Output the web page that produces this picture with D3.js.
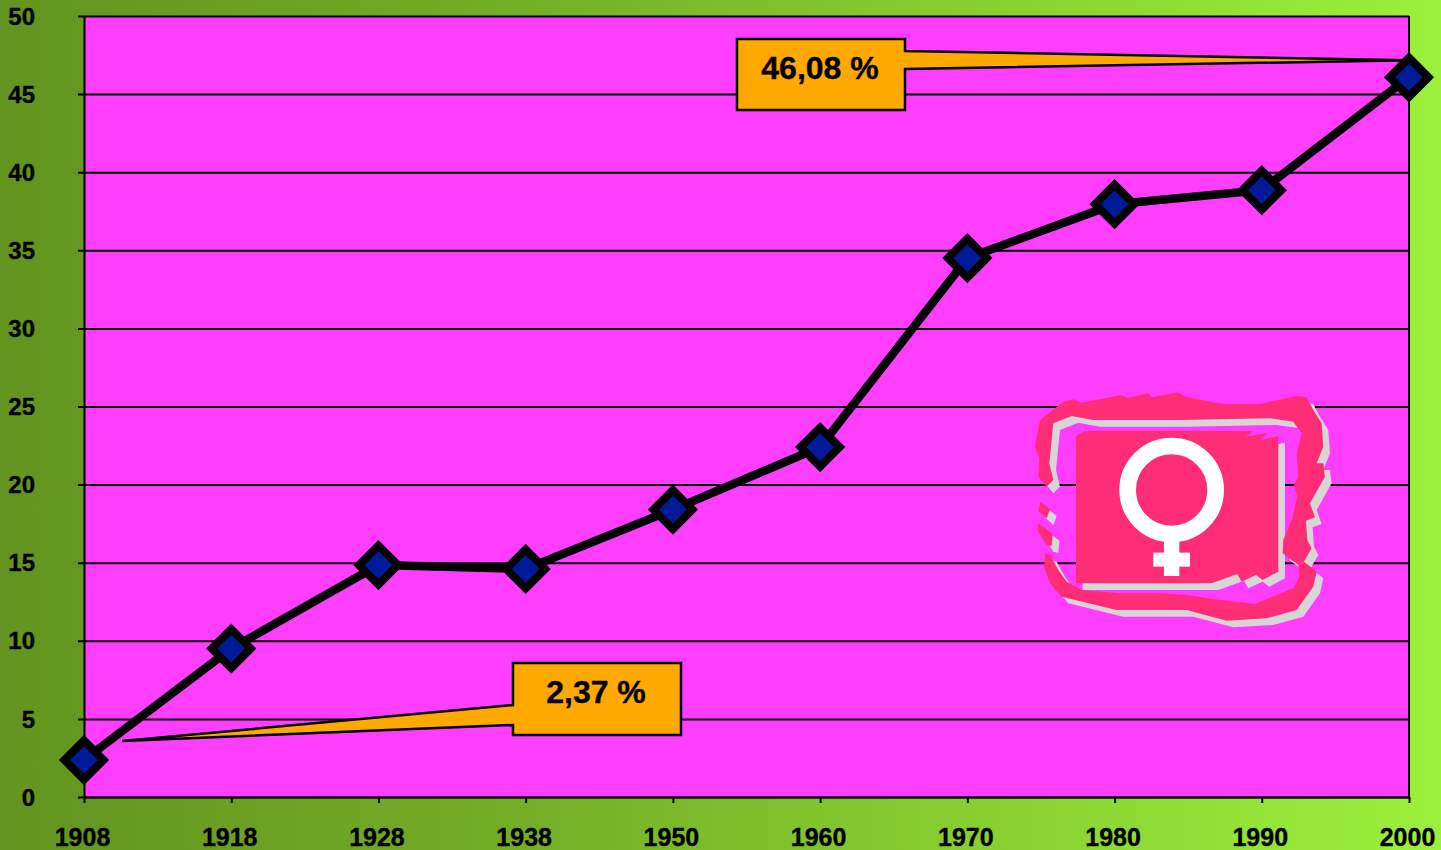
<!DOCTYPE html>
<html>
<head>
<meta charset="utf-8">
<script src="https://cdn.jsdelivr.net/npm/d3@7"></script>
<style>
  html, body { margin: 0; padding: 0; background: #7fc02c; overflow: hidden; }
  svg { display: block; }
  text { font-family: "Liberation Sans", Arial, sans-serif; font-weight: bold; fill: #000; stroke: #000; stroke-width: 0.35px; }
</style>
</head>
<body>
<div id="my_dataviz"></div>
<script>
var years = ["1908", "1918", "1928", "1938", "1950", "1960", "1970", "1980", "1990", "2000"];
var values = [2.37, 9.5, 14.85, 14.6, 18.4, 22.4, 34.5, 37.95, 38.85, 46.08];
var yTicks = [0, 5, 10, 15, 20, 25, 30, 35, 40, 45, 50];

var margin = {top: 16, right: 32, bottom: 53, left: 84},
    width = 1441 - margin.left - margin.right,
    height = 850 - margin.top - margin.bottom;

var root = d3.select("#my_dataviz")
  .append("svg")
    .attr("width", 1441)
    .attr("height", 850);

var grad = root.append("defs").append("linearGradient")
    .attr("id", "bg")
    .attr("x1", "0%").attr("y1", "0%")
    .attr("x2", "100%").attr("y2", "0%");
grad.append("stop").attr("offset", "0%").attr("stop-color", "#62941f");
grad.append("stop").attr("offset", "35%").attr("stop-color", "#74ad26");
grad.append("stop").attr("offset", "100%").attr("stop-color", "#9cf03c");

root.append("rect")
    .attr("width", 1441)
    .attr("height", 850)
    .attr("fill", "url(#bg)");

var svg = root.append("g")
    .attr("transform", "translate(" + margin.left + "," + margin.top + ")");

var x = d3.scalePoint()
  .domain(years)
  .range([0, width]);

var y = d3.scaleLinear()
  .domain([0, 50])
  .range([height, 0]);

svg.append("rect")
    .attr("width", width)
    .attr("height", height)
    .attr("fill", "#ff3dff");

// grid lines double as the y ticks
var yAxis = svg.append("g")
  .call(d3.axisLeft(y).tickValues(yTicks).tickSize(6).tickSizeOuter(0));
yAxis.selectAll(".tick line")
    .attr("x1", -6)
    .attr("x2", width)
    .attr("stroke", "#000")
    .attr("stroke-width", 2);
yAxis.selectAll("text")
    .attr("x", -49)
    .attr("dy", "0.34em")
    .style("text-anchor", "end")
    .style("font-size", "24px");
yAxis.select(".domain").attr("stroke", "#000").attr("stroke-width", 2);

var xAxis = svg.append("g")
    .attr("transform", "translate(0," + height + ")")
  .call(d3.axisBottom(x).tickSize(6).tickSizeOuter(0));
xAxis.selectAll(".tick line").attr("stroke", "#000").attr("stroke-width", 2);
xAxis.selectAll("text")
    .attr("y", 31)
    .attr("dy", "0.71em")
    .attr("dx", -2)
    .style("font-size", "25px");
xAxis.select(".domain").attr("stroke", "#000").attr("stroke-width", 2);

svg.append("line")
    .attr("x1", width).attr("x2", width)
    .attr("y1", 0).attr("y2", height)
    .attr("stroke", "#000").attr("stroke-width", 2);

// emblem, traced at 3x
var framePts = [
  "60,120 130,65 160,58 185,68 305,45 322,55 385,40 395,52 475,37 495,50 610,72 720,72 830,48 860,52 880,90 905,130 910,200 890,250 910,250 915,290 870,370 885,412 858,422 862,480 875,505 852,545 835,555 788,520 790,480 815,420 832,350 822,315 835,290 830,220 845,160 820,125 750,115 480,120 220,120 155,108 100,130 88,250 100,300 80,320 55,290 58,235 45,200",
  "62,365 90,388 80,415 55,392",
  "55,430 98,462 95,498 80,495 52,450",
  "75,522 90,525 115,570 140,605 185,630 300,640 420,640 500,645 600,660 705,672 820,625 838,590 835,555 852,545 890,575 880,620 830,690 740,715 620,722 500,690 400,690 290,690 125,650 90,610 72,560",
  "168,168 195,153 700,153 678,170 745,158 718,182 775,168 775,575 728,600 708,585 665,605 652,582 575,610 168,610"
];

var emblem = root.append("g")
    .attr("transform", "translate(1020,380) scale(0.3333)");
emblem.selectAll("polygon.shadow")
  .data(framePts)
  .enter()
  .append("polygon")
    .attr("class", "shadow")
    .attr("points", function(d) { return d; })
    .attr("transform", "translate(20,20)")
    .attr("fill", "#d6d6d6");
emblem.selectAll("polygon.front")
  .data(framePts)
  .enter()
  .append("polygon")
    .attr("class", "front")
    .attr("points", function(d) { return d; })
    .attr("fill", "#ff2d75");
emblem.append("circle")
    .attr("cx", 455).attr("cy", 330).attr("r", 132)
    .attr("fill", "none").attr("stroke", "#fff").attr("stroke-width", 50);
emblem.append("rect")
    .attr("x", 432).attr("y", 470).attr("width", 46).attr("height", 118)
    .attr("fill", "#fff");
emblem.append("rect")
    .attr("x", 400).attr("y", 518).attr("width", 110).attr("height", 42)
    .attr("fill", "#fff");

// callouts: tail tip hangs off the data point, box sits at a fixed offset
function callout(i, tipDx, tipDy, box, tail, label) {
  var tx = x(years[i]) + tipDx, ty = y(values[i]) + tipDy;
  var pts = box.side == "right"
    ? [[box.x, box.y], [box.x + box.w, box.y], [box.x + box.w, tail[0]], [tx, ty], [box.x + box.w, tail[1]],
       [box.x + box.w, box.y + box.h], [box.x, box.y + box.h]]
    : [[box.x, box.y], [box.x + box.w, box.y], [box.x + box.w, box.y + box.h], [box.x, box.y + box.h],
       [box.x, tail[1]], [tx, ty], [box.x, tail[0]]];
  svg.append("polygon")
      .attr("points", pts.map(function(p) { return p.join(","); }).join(" "))
      .attr("fill", "#ffa800")
      .attr("stroke", "#000")
      .attr("stroke-width", 2.5)
      .attr("stroke-linejoin", "miter")
      .attr("stroke-miterlimit", 4);
  svg.append("text")
      .attr("x", box.x + box.w / 2 - 1)
      .attr("y", box.y + box.h / 2 + 4)
      .style("text-anchor", "middle")
      .style("font-size", "32px")
      .text(label);
}

callout(0, 38, -19, {x: 429, y: 647, w: 168, h: 72, side: "left"}, [689, 709], "2,37 %");
callout(9, 0, -17, {x: 653, y: 23, w: 168, h: 71, side: "right"}, [35, 53], "46,08 %");

var line = d3.line()
  .x(function(d, i) { return x(years[i]); })
  .y(function(d) { return y(d); });

svg.append("path")
    .datum(values)
    .attr("fill", "none")
    .attr("stroke", "#000")
    .attr("stroke-width", 8.5)
    .attr("d", line);

svg.selectAll("mypoint")
  .data(values)
  .enter()
  .append("path")
    .attr("d", d3.symbol(d3.symbolSquare, 760))
    .attr("transform", function(d, i) { return "translate(" + x(years[i]) + "," + y(d) + ")rotate(45)"; })
    .attr("fill", "#001a99")
    .attr("stroke", "#000")
    .attr("stroke-width", 8);
</script>
</body>
</html>
